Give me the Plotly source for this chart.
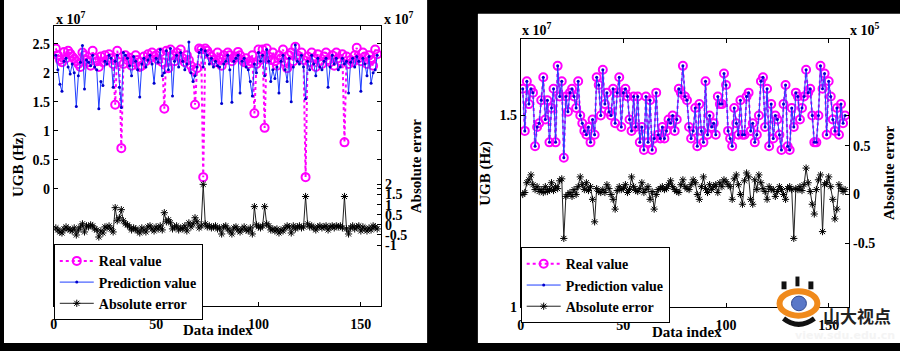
import plotly.graph_objects as go

W, H = 900, 351

# ---------------- Left chart data (x 1e7) ----------------
left_real = [
    2.42, 2.30, 2.22, 2.18, 2.36, 2.25, 2.38, 2.33, 2.28, 2.24,
    2.20, 2.15, 2.10, 2.35, 2.30, 2.22, 2.18, 2.12, 2.38, 2.25,
    2.20, 2.10, 2.28, 2.18, 2.30, 2.22, 2.32, 2.25, 2.15, 1.45,
    2.38, 2.18, 0.70, 2.15, 2.30, 2.22, 2.26, 2.12, 2.18, 2.30,
    2.22, 2.10, 2.12, 2.28, 2.20, 2.32, 2.25, 2.35, 2.28, 2.30,
    2.22, 2.35, 2.18, 1.38, 2.38, 2.08, 2.40, 2.30, 2.20, 2.35,
    2.28, 2.40, 2.25, 2.18, 2.30, 2.22, 2.12, 2.05, 1.45, 2.08,
    2.42, 2.40, 0.20, 2.42, 2.38, 2.32, 2.28, 2.22, 2.18, 2.35,
    2.25, 2.12, 2.30, 2.22, 2.35, 2.30, 2.20, 2.25, 2.28, 2.36,
    2.30, 2.22, 2.18, 2.25, 2.15, 2.20, 2.30, 1.30, 2.15, 2.40,
    2.22, 2.40, 1.05, 2.42, 2.28, 2.22, 2.35, 2.20, 2.12, 2.30,
    2.25, 2.40, 2.18, 2.08, 2.30, 2.35, 2.20, 2.45, 2.30, 2.25,
    2.35, 2.22, 0.20, 2.28, 2.18, 2.35, 2.25, 2.10, 2.32, 2.20,
    2.15, 2.28, 2.35, 2.22, 2.18, 2.30, 2.12, 2.35, 2.25, 2.20,
    2.32, 0.80, 2.28, 2.15, 2.22, 2.18, 2.30, 2.43, 2.25, 2.20,
    2.35, 2.28, 2.15, 2.30, 2.22, 2.12, 2.40, 2.32,
]
left_pred = [
    2.30, 2.05, 1.80, 1.68, 2.20, 2.25, 2.10, 1.98, 2.15, 2.00,
    1.42, 1.95, 2.18, 2.47, 1.72, 2.22, 2.18, 2.12, 2.30, 2.10,
    2.05, 1.38, 1.85, 1.78, 2.20, 2.15, 2.30, 2.25, 1.75, 2.20,
    2.30, 1.75, 1.40, 2.35, 2.30, 2.25, 2.12, 1.95, 2.28, 2.20,
    2.05, 1.58, 2.15, 2.25, 2.10, 2.22, 2.30, 2.15, 1.82, 2.25,
    2.18, 2.40, 1.95, 2.00, 2.38, 2.05, 2.42, 1.60, 2.20, 2.30,
    2.10, 2.35, 2.20, 2.05, 2.15, 2.53, 2.00, 1.85, 1.95, 2.10,
    2.35, 2.40, 2.10, 2.38, 2.30, 2.15, 2.25, 2.10, 2.20, 2.12,
    2.10, 1.47, 2.15, 2.20, 2.30, 2.05, 1.49, 2.20, 2.25, 2.30,
    1.65, 2.20, 2.25, 2.10, 2.05, 1.85, 1.60, 2.15, 2.00, 2.35,
    2.20, 2.30, 1.95, 2.40, 2.20, 1.85, 2.05, 1.90, 2.10, 1.65,
    2.20, 2.30, 2.05, 1.85, 2.25, 1.50, 2.10, 2.48, 2.20, 2.15,
    2.30, 2.10, 1.55, 2.20, 2.05, 2.30, 2.15, 1.95, 2.25, 2.10,
    2.05, 2.20, 2.25, 1.75, 2.10, 2.30, 2.15, 2.25, 2.05, 2.10,
    2.25, 2.15, 2.20, 1.65, 2.18, 2.25, 2.10, 2.28, 2.20, 1.68,
    2.25, 2.15, 1.95, 2.28, 1.82, 2.00, 2.05, 2.30,
]
left_err = [
    -0.15, -0.25, -0.35, -0.40, -0.20, -0.10, -0.20, -0.25, -0.30, -0.15,
    -0.50, -0.25, -0.10, 0.05, -0.35, -0.05, -0.10, 0.00, -0.05, -0.20,
    -0.25, -0.60, -0.30, -0.40, -0.10, -0.15, -0.05, -0.20, -0.35, 0.85,
    0.20, 0.35, 0.75, 0.20, 0.05, 0.00, -0.10, -0.25, -0.15, -0.20,
    -0.30, -0.40, -0.15, -0.25, -0.35, -0.10, -0.05, -0.20, -0.30, -0.10,
    -0.20, -0.05, -0.25, 0.60, 0.15, 0.25, 0.10, -0.20, -0.10, -0.05,
    -0.25, -0.15, -0.20, -0.05, -0.30, 0.10, -0.10, 0.05, 0.35, 0.15,
    -0.15, -0.05, 2.00, 0.05, -0.10, -0.05, -0.15, -0.10, -0.05, -0.20,
    -0.15, -0.45, -0.10, -0.05, -0.20, -0.30, -0.45, -0.15, -0.10, -0.25,
    -0.35, -0.20, -0.10, -0.25, -0.30, -0.15, -0.45, 0.90, 0.00, -0.10,
    -0.15, -0.05, 0.90, 0.05, -0.05, -0.25, -0.20, -0.30, -0.20, -0.40,
    -0.25, -0.30, -0.15, -0.05, -0.10, -0.40, -0.05, -0.20, -0.10, -0.05,
    -0.15, -0.10, 1.40, 0.05, -0.10, -0.05, -0.15, -0.25, -0.10, -0.05,
    -0.15, -0.10, -0.05, -0.25, -0.10, -0.05, -0.15, -0.05, -0.10, -0.05,
    -0.15, 1.40, -0.20, -0.45, -0.15, -0.05, -0.20, -0.10, -0.05, -0.30,
    -0.10, -0.20, -0.30, -0.15, -0.25, -0.05, -0.10, -0.20,
]

# ---------------- Right chart data (real/pred x 1e7, error x 1e5) ----------------
right_real = [
    1.57, 1.46, 1.59, 1.53, 1.57, 1.56, 1.42, 1.47, 1.48, 1.54,
    1.60, 1.49, 1.54, 1.43, 1.52, 1.57, 1.43, 1.63, 1.55, 1.59,
    1.39, 1.55, 1.51, 1.56, 1.57, 1.55, 1.52, 1.59, 1.50, 1.48,
    1.46, 1.45, 1.47, 1.43, 1.49, 1.45, 1.60, 1.58, 1.50, 1.62,
    1.53, 1.56, 1.51, 1.50, 1.57, 1.48, 1.56, 1.60, 1.47, 1.56,
    1.57, 1.55, 1.49, 1.46, 1.55, 1.47, 1.55, 1.43, 1.47, 1.41,
    1.55, 1.43, 1.54, 1.41, 1.44, 1.56, 1.45, 1.44, 1.47, 1.44,
    1.46, 1.49, 1.48, 1.50, 1.46, 1.49, 1.57, 1.56, 1.63, 1.55,
    1.54, 1.47, 1.44, 1.46, 1.52, 1.42, 1.53, 1.46, 1.43, 1.59,
    1.45, 1.50, 1.47, 1.48, 1.45, 1.55, 1.53, 1.53, 1.61, 1.58,
    1.46, 1.44, 1.42, 1.52, 1.48, 1.45, 1.54, 1.45, 1.45, 1.55,
    1.56, 1.46, 1.48, 1.43, 1.45, 1.50, 1.59, 1.60, 1.47, 1.57,
    1.42, 1.53, 1.44, 1.50, 1.49, 1.45, 1.41, 1.53, 1.58, 1.42,
    1.41, 1.52, 1.47, 1.56, 1.55, 1.49, 1.52, 1.55, 1.62, 1.56,
    1.57, 1.50, 1.43, 1.43, 1.50, 1.63, 1.57, 1.61, 1.45, 1.59,
    1.55, 1.49, 1.46, 1.52, 1.45, 1.53, 1.48, 1.50,
]
# prediction coincides with the real value at this scale (error is ~1e5 vs 1e7)
right_pred = right_real
right_err = [
    0.00, 0.02, 0.12, 0.15, 0.20, 0.10, 0.05, 0.08, 0.03, 0.05,
    0.02, 0.08, 0.03, 0.05, 0.12, 0.04, 0.08, 0.06, 0.14, 0.16,
    -0.45, -0.02, 0.00, 0.02, -0.02, 0.05, 0.00, 0.08, 0.18, 0.10,
    0.05, 0.12, 0.04, 0.08, -0.05, -0.28, 0.06, 0.03, 0.02, 0.05,
    0.02, 0.10, 0.06, 0.00, -0.05, -0.15, 0.04, 0.08, 0.05, 0.06,
    0.10, 0.02, 0.05, 0.18, 0.08, 0.04, 0.03, 0.06, 0.12, 0.02,
    0.05, 0.08, -0.05, 0.03, -0.15, 0.00, 0.05, 0.06, 0.08, 0.05,
    0.06, 0.10, 0.14, 0.08, 0.05, 0.03, 0.02, 0.10, 0.15, 0.08,
    0.06, 0.05, 0.10, 0.15, 0.12, 0.00, -0.05, 0.08, 0.18, 0.06,
    0.02, 0.10, 0.05, 0.08, 0.10, 0.02, 0.12, 0.08, 0.15, 0.13,
    0.10, 0.08, -0.05, 0.16, 0.20, 0.10, 0.00, -0.10, 0.14, 0.22,
    0.18, -0.05, -0.10, 0.15, 0.05, 0.20, 0.12, 0.06, 0.03, -0.05,
    0.08, 0.05, 0.05, -0.02, 0.03, 0.08, 0.05, 0.00, -0.05, 0.06,
    0.08, 0.05, -0.45, 0.06, 0.05, 0.08, 0.04, 0.10, 0.27, 0.12,
    0.03, -0.10, -0.20, 0.05, 0.15, 0.20, -0.38, 0.10, 0.12, 0.18,
    0.08, -0.05, -0.25, -0.15, 0.10, 0.06, 0.03, 0.05,
]

left_idx = list(range(1, len(left_real) + 1))
right_idx = list(range(1, len(right_real) + 1))

x_ticks = [0, 50, 100, 150]
left_y_ticks = [0, 0.5, 1, 1.5, 2, 2.5]
left_y_labels = ["0", "0.5", "1", "1.5", "2", "2.5"]
left_y2_ticks = [-1, -0.5, 0, 0.5, 1, 1.5, 2]
left_y2_labels = ["-1", "-0.5", "0", "0.5", "1", "1.5", "2"]
right_y_ticks = [1, 1.5]
right_y_labels = ["1", "1.5"]
right_y2_ticks = [-0.5, 0, 0.5]
right_y2_labels = ["-0.5", "0", "0.5"]

legend_names = ["Real value", "Prediction value", "Absolute error"]

SERIF = "Liberation Serif"
MAGENTA = "#ff00ff"
BLUE = "#1f3fff"
BLACK = "#222222"


def px(x):
    return x / W


def py(y):
    return 1 - y / H


fig = go.Figure()


def add_series(idx, real, pred, err, xa, ya, ya2, leg):
    fig.add_trace(go.Scatter(
        x=idx, y=real, name=legend_names[0], xaxis=xa, yaxis=ya,
        mode="lines+markers", line=dict(color=MAGENTA, width=2, dash="dot"),
        marker=dict(symbol="circle-open", size=8, color=MAGENTA, line=dict(width=2)),
        legend=leg))
    fig.add_trace(go.Scatter(
        x=idx, y=pred, name=legend_names[1], xaxis=xa, yaxis=ya,
        mode="lines+markers", line=dict(color=BLUE, width=1),
        marker=dict(symbol="circle", size=3, color="#0000cc"),
        legend=leg))
    fig.add_trace(go.Scatter(
        x=idx, y=err, name=legend_names[2], xaxis=xa, yaxis=ya2,
        mode="lines+markers", line=dict(color=BLACK, width=1),
        marker=dict(symbol="asterisk-open", size=6, color="black",
                    line=dict(width=1, color="black")),
        legend=leg))


add_series(left_idx, left_real, left_pred, left_err, "x", "y", "y2", "legend")
add_series(right_idx, right_real, right_pred, right_err, "x2", "y3", "y4", "legend2")

tickfont = dict(family=SERIF, size=14, color="black", weight="bold")
axis_common = dict(showline=True, linecolor="black", linewidth=1, ticks="inside",
                   ticklen=4, tickcolor="black", showgrid=False, zeroline=False,
                   tickfont=tickfont)

L_dom_y = [py(313), py(27)]
R_dom_y = [py(314), py(40)]

legend_common = dict(xanchor="left", yanchor="top", bgcolor="white",
                     bordercolor="black", borderwidth=1,
                     font=dict(family=SERIF, size=14, color="black", weight="bold"),
                     itemwidth=34, tracegroupgap=0)

fig.update_layout(
    width=W, height=H, margin=dict(l=0, r=0, t=0, b=0),
    paper_bgcolor="black", plot_bgcolor="white", showlegend=True,
    xaxis=dict(domain=[px(50), px(379)], range=[0, 160], anchor="y",
               tickvals=x_ticks, mirror="ticks", ticklabelstandoff=5, **axis_common),
    yaxis=dict(domain=L_dom_y, range=[-2.02, 2.8], anchor="x",
               tickvals=left_y_ticks, ticktext=left_y_labels,
               mirror="ticks", **axis_common),
    yaxis2=dict(range=[-4.0, 9.8], overlaying="y", side="right", anchor="x",
                tickvals=left_y2_ticks, ticktext=left_y2_labels, **axis_common),
    xaxis2=dict(domain=[px(519), px(849)], range=[0, 160], anchor="y3",
                tickvals=x_ticks, mirror="ticks", ticklabelstandoff=5, **axis_common),
    yaxis3=dict(domain=R_dom_y, range=[1.0, 1.70], anchor="x2",
                tickvals=right_y_ticks, ticktext=right_y_labels, mirror="ticks",
                **axis_common),
    yaxis4=dict(range=[-1.15, 1.59], overlaying="y3", side="right", anchor="x2",
                tickvals=right_y2_ticks, ticktext=right_y2_labels, **axis_common),
    legend=dict(x=px(50), y=py(250), **legend_common),
    legend2=dict(x=px(519), y=py(253), **legend_common),
)

# white panels on black background
fig.add_shape(type="rect", xref="paper", yref="paper", x0=0, x1=px(425), y0=0, y1=1,
              fillcolor="white", line=dict(width=0), layer="below")
fig.add_shape(type="rect", xref="paper", yref="paper", x0=px(476), x1=1, y0=0, y1=py(14),
              fillcolor="white", line=dict(width=0), layer="below")

lab_font = dict(family=SERIF, size=15, color="black", weight="bold")


def ann(text, x, y, angle=0, font=None, xanchor="center", yanchor="middle"):
    fig.add_annotation(text=text, xref="paper", yref="paper", x=px(x), y=py(y),
                       showarrow=False, textangle=angle, font=font or lab_font,
                       xanchor=xanchor, yanchor=yanchor)


# left chart labels
ann("UGB (Hz)", 14, 168, -90)
ann("Absolute error", 414, 170, -90)
ann("Data index", 215, 348, yanchor="bottom")
ann("x 10<sup>7</sup>", 50, 18, font=tickfont, xanchor="left")
ann("x 10<sup>7</sup>", 380, 18, font=tickfont, xanchor="left")

# right chart labels
ann("UGB (Hz)", 484, 177, -90)
ann("Absolute error", 889, 177, -90)
ann("Data index", 686, 350, yanchor="bottom")
ann("x 10<sup>7</sup>", 518, 30, font=tickfont, xanchor="left")
ann("x 10<sup>5</sup>", 848, 30, font=tickfont, xanchor="left")

# watermark (logo + site name)
for (x0, y0, x1, y1) in [(795, 283, 799, 293), (781, 288, 786, 296), (808, 288, 813, 296)]:
    fig.add_shape(type="rect", xref="paper", yref="paper",
                  x0=px(x0), x1=px(x1), y0=py(y1), y1=py(y0),
                  fillcolor="#111111", line=dict(width=0))
fig.add_shape(type="circle", xref="paper", yref="paper",
              x0=px(779), x1=px(817), y0=py(323), y1=py(298),
              line=dict(color="#f08a1c", width=6), fillcolor="white")
fig.add_shape(type="circle", xref="paper", yref="paper",
              x0=px(791), x1=px(806), y0=py(318), y1=py(303),
              line=dict(color="#304890", width=1), fillcolor="#5a78c8")
fig.add_shape(type="path", xref="paper", yref="paper",
              path=f"M {px(783)},{py(326)} Q {px(798)},{py(338)} {px(814)},{py(326)}",
              line=dict(color="#111111", width=5))
ann("山大视点", 857, 323, font=dict(family="Noto Sans CJK SC", size=17, color="#222222",
                                  weight="bold"))
ann("view.sdu.edu.cn", 845, 343, font=dict(family="DejaVu Sans", size=11, color="#f4f4f4",
                                           weight="bold"))

fig.write_html("out.html")
